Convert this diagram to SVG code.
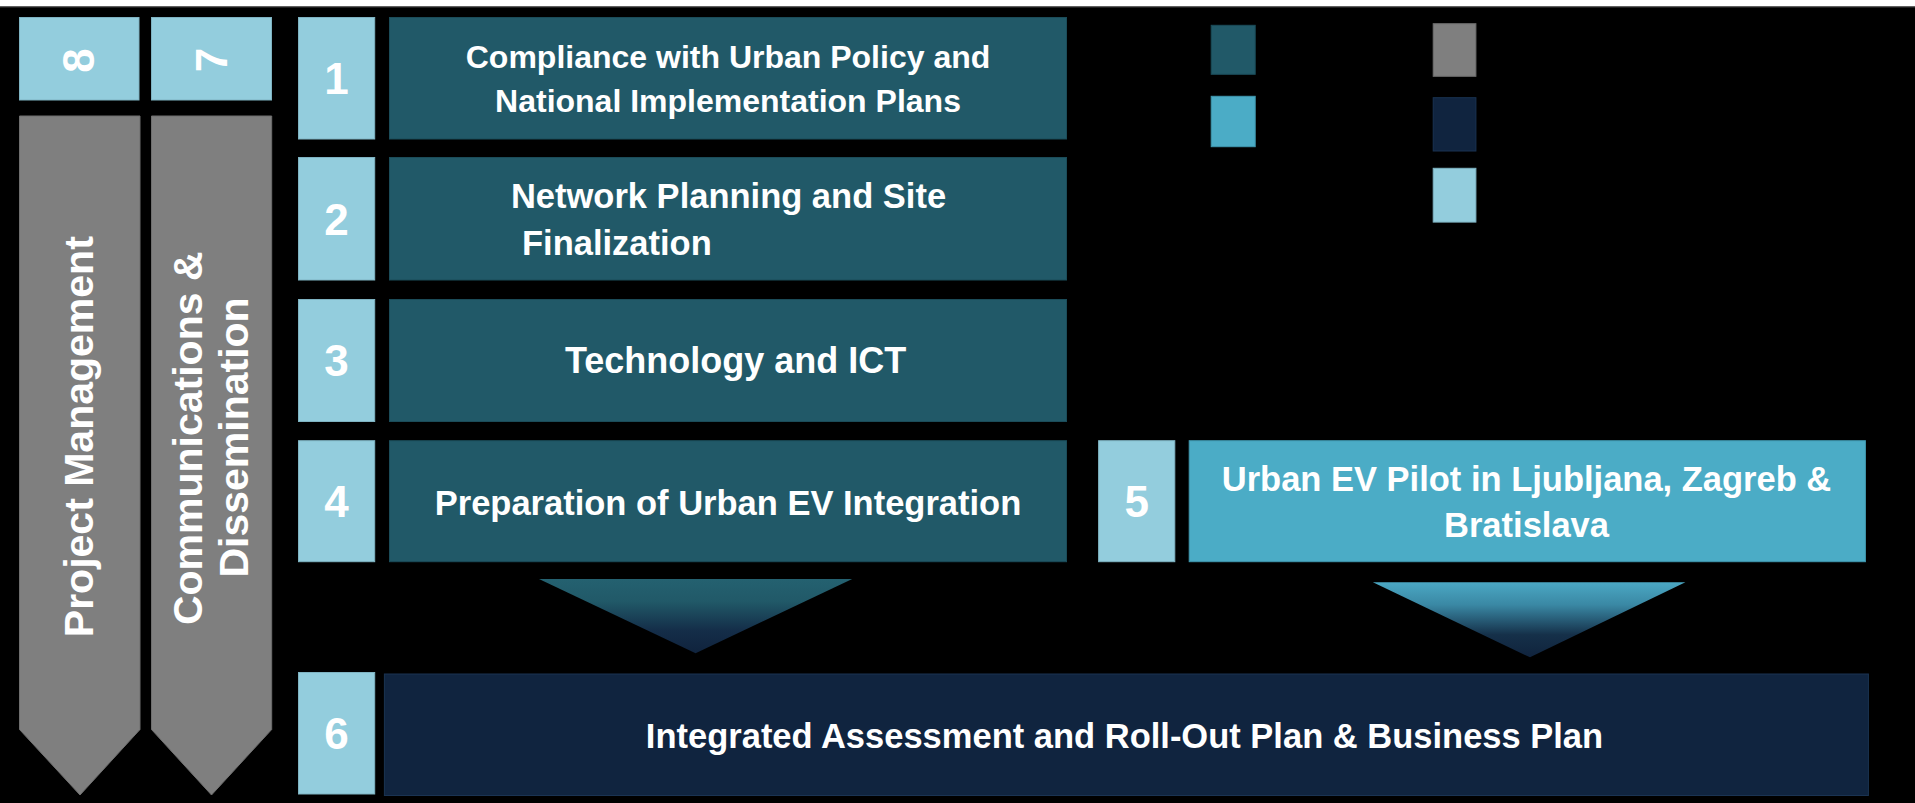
<svg xmlns="http://www.w3.org/2000/svg" width="1915" height="803" viewBox="0 0 1915 803">
  <defs>
    <style>
      .num { fill: #93CDDD; stroke: #7FB3C2; stroke-width: 1; }
      .teal { fill: #215968; stroke: #1B4C59; stroke-width: 1; }
      .mid { fill: #4BACC6; stroke: #3F97AE; stroke-width: 1; }
      .navy { fill: #10243F; stroke: #1A3352; stroke-width: 1; }
      .gray { fill: #7F7F7F; stroke: #6E6E6E; stroke-width: 1; }
      .t { font-family: "Liberation Sans", Arial, sans-serif; font-weight: bold; fill: #FFFFFF; }
      .dig { font-size: 44px; text-anchor: middle; }
      .lbl { font-size: 34.5px; }
      .side { font-size: 41px; text-anchor: middle; }
    </style>
    <linearGradient id="gLeft" x1="0" y1="0" x2="0" y2="1">
      <stop offset="0" stop-color="#246170"/>
      <stop offset="0.3" stop-color="#215968"/>
      <stop offset="0.7" stop-color="#142D48"/>
      <stop offset="1" stop-color="#10233D"/>
    </linearGradient>
    <linearGradient id="gRight" x1="0" y1="0" x2="0" y2="1">
      <stop offset="0" stop-color="#4BA8C4"/>
      <stop offset="0.3" stop-color="#3A88A4"/>
      <stop offset="0.7" stop-color="#153049"/>
      <stop offset="1" stop-color="#10233D"/>
    </linearGradient>
  </defs>

  <!-- background -->
  <rect x="0" y="0" width="1915" height="803" fill="#000000"/>
  <rect x="0" y="0" width="1915" height="6.5" fill="#FFFFFF"/>
  <rect x="0" y="6.5" width="1915" height="1" fill="#404040"/>

  <!-- side columns -->
  <g id="wp8">
    <rect class="num" x="19.5" y="17.5" width="119.5" height="82.5"/>
    <text class="t dig" transform="translate(93.5,60.5) rotate(-90)" font-size="42">8</text>
    <path class="gray" d="M19.5,116 L140,116 L140,729.5 L80,795 L19.5,729.5 Z"/>
    <text class="t side" transform="translate(93.3,436.7) rotate(-90)">Project Management</text>
  </g>
  <g id="wp7">
    <rect class="num" x="151.5" y="17.5" width="120" height="82.5"/>
    <text class="t dig" transform="translate(226.7,60) rotate(-90)" font-size="42">7</text>
    <path class="gray" d="M151.5,116 L271.7,116 L271.7,729.5 L211.5,795 L151.5,729.5 Z"/>
    <text class="t side" transform="translate(201.7,438.3) rotate(-90)">Communications &amp;</text>
    <text class="t side" transform="translate(248.3,437.5) rotate(-90)">Dissemination</text>
  </g>

  <!-- work packages -->
  <g id="wp1">
    <rect class="num" x="298.5" y="17.5" width="76.2" height="121.5"/>
    <text class="t dig" x="336.5" y="94">1</text>
    <rect class="teal" x="389.5" y="17.5" width="677" height="121.5"/>
    <text class="t" font-size="32" text-anchor="middle" x="728" y="68.3">Compliance with Urban Policy and</text>
    <text class="t" font-size="32" text-anchor="middle" x="728" y="111.7">National Implementation Plans</text>
  </g>
  <g id="wp2">
    <rect class="num" x="298.5" y="157.5" width="76.2" height="122.5"/>
    <text class="t dig" x="336.5" y="234.6">2</text>
    <rect class="teal" x="389.5" y="157.5" width="677" height="122.5"/>
    <text class="t lbl" text-anchor="middle" x="728.5" y="208.3">Network Planning and Site</text>
    <text class="t lbl" x="522" y="255">Finalization</text>
  </g>
  <g id="wp3">
    <rect class="num" x="298.5" y="299.5" width="76.2" height="122"/>
    <text class="t dig" x="336.5" y="376.3">3</text>
    <rect class="teal" x="389.5" y="299.5" width="677" height="122"/>
    <text class="t" font-size="36" x="565" y="373.3">Technology and ICT</text>
  </g>
  <g id="wp4">
    <rect class="num" x="298.5" y="440.7" width="76.2" height="121"/>
    <text class="t dig" x="336.5" y="516.7">4</text>
    <rect class="teal" x="389.5" y="440.7" width="677" height="121"/>
    <text class="t lbl" text-anchor="middle" x="728" y="515">Preparation of Urban EV Integration</text>
  </g>
  <g id="wp5">
    <rect class="num" x="1098.6" y="440.7" width="76.2" height="121"/>
    <text class="t dig" x="1136.7" y="516.7">5</text>
    <rect class="mid" x="1189.2" y="440.7" width="676.2" height="121"/>
    <text class="t lbl" text-anchor="middle" x="1526.5" y="491">Urban EV Pilot in Ljubljana, Zagreb &amp;</text>
    <text class="t lbl" text-anchor="middle" x="1526.5" y="537.3">Bratislava</text>
  </g>
  <g id="wp6">
    <rect class="num" x="298.5" y="672.5" width="76.2" height="121.5"/>
    <text class="t dig" x="336.5" y="748.5">6</text>
    <rect class="navy" x="384.4" y="674" width="1484" height="121.5"/>
    <text class="t lbl" text-anchor="middle" x="1124.5" y="747.5">Integrated Assessment and Roll-Out Plan &amp; Business Plan</text>
  </g>

  <!-- connectors -->
  <g id="connectors">
    <path d="M539,579 L852.2,579 L695.6,653.3 Z" fill="url(#gLeft)"/>
    <path d="M1372.9,582.3 L1685.4,582.3 L1530,657.3 Z" fill="url(#gRight)"/>
  </g>

  <!-- legend -->
  <g id="legend">
    <rect class="teal" x="1211.2" y="25.3" width="44" height="49"/>
    <rect class="mid" x="1211.2" y="96.3" width="44" height="50.4"/>
    <rect class="gray" x="1433.2" y="23.7" width="42.7" height="52.6" stroke="#555555"/>
    <rect class="navy" x="1433.2" y="97.7" width="42.7" height="53.3"/>
    <rect class="num" x="1433.2" y="168.3" width="42.7" height="53.8"/>
  </g>
</svg>
